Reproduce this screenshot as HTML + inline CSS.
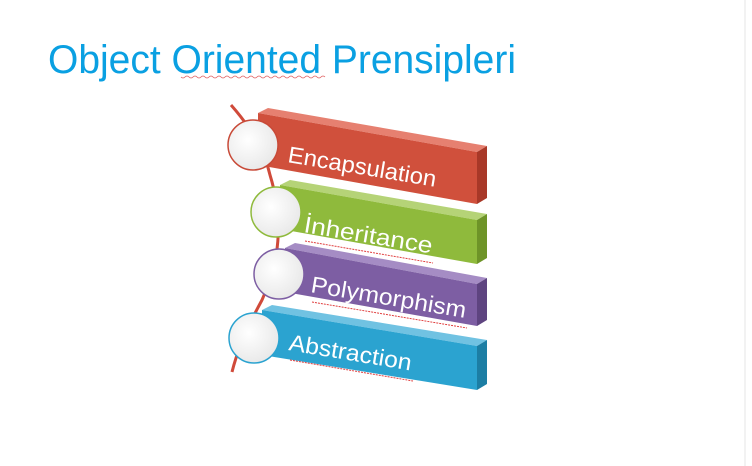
<!DOCTYPE html>
<html><head><meta charset="utf-8"><style>
html,body{margin:0;padding:0;background:#fff;width:752px;height:466px;overflow:hidden}
svg{display:block}
text{font-family:"Liberation Sans",sans-serif}
</style></head><body>
<svg width="752" height="466" viewBox="0 0 752 466">
<defs>
<radialGradient id="cg" cx="0.4" cy="0.4" r="0.7"><stop offset="0" stop-color="#ffffff"/><stop offset="1" stop-color="#e6e6e6"/></radialGradient>
</defs>
<rect x="0" y="0" width="752" height="466" fill="#fff"/>
<line x1="745" y1="0" x2="745" y2="466" stroke="#e4e4e4" stroke-width="1"/>
<text x="48" y="73" font-size="40" fill="#0aa0e2" textLength="468" lengthAdjust="spacingAndGlyphs">Object Oriented Prensipleri</text>
<path d="M181 77 q2 2 4 0 t4 0 t4 0 t4 0 t4 0 t4 0 t4 0 t4 0 t4 0 t4 0 t4 0 t4 0 t4 0 t4 0 t4 0 t4 0 t4 0 t4 0 t4 0 t4 0 t4 0 t4 0 t4 0 t4 0 t4 0 t4 0 t4 0 t4 0 t4 0 t4 0 t4 0 t4 0 t4 0 t4 0 t4 0 t4 0" fill="none" stroke="#e06060" stroke-width="0.8"/>
<path d="M231 105 Q262 140 270 175 Q290 240 262 300 Q240 340 232 372" fill="none" stroke="#d04a3a" stroke-width="3"/>

<g>
<polygon points="258,113 268,108 487,146 477,152" fill="#e68070"/>
<polygon points="258,113 477,152 477,204 258,165" fill="#d0503c"/>
<polygon points="477,152 487,146 487,198 477,204" fill="#a83828"/>
<text x="287" y="162" font-size="23" fill="#fff" transform="rotate(9.5 287 162)" textLength="150" lengthAdjust="spacingAndGlyphs">Encapsulation</text>
</g>
<g>
<polygon points="280,185 290,180 487,214 477,220" fill="#b5d377"/>
<polygon points="280,185 477,220 477,264 280,229" fill="#8fba3c"/>
<polygon points="477,220 487,214 487,258 477,264" fill="#6e9428"/>
<text x="303" y="232" font-size="23" fill="#fff" transform="rotate(9.5 303 232)" textLength="130" lengthAdjust="spacingAndGlyphs">İnheritance</text>
<path d="M305 241 l128 22" stroke="#e04040" stroke-width="1" stroke-dasharray="2,1"/>
</g>
<g>
<polygon points="285,248 295,243 487,278 477,284" fill="#a58cc4"/>
<polygon points="285,248 477,284 477,326 285,292" fill="#7d5ea3"/>
<polygon points="477,284 487,278 487,320 477,326" fill="#5e4480"/>
<text x="310" y="292" font-size="23" fill="#fff" transform="rotate(9.5 310 292)" textLength="157" lengthAdjust="spacingAndGlyphs">Polymorphism</text>
<path d="M312 302 l155 26" stroke="#e04040" stroke-width="1" stroke-dasharray="2,1"/>
</g>
<g>
<polygon points="262,310 272,305 487,340 477,346" fill="#70c2e2"/>
<polygon points="262,310 477,346 477,390 262,355" fill="#2ba3d0"/>
<polygon points="477,346 487,340 487,384 477,390" fill="#1c7ea4"/>
<text x="288" y="350" font-size="23" fill="#fff" transform="rotate(9.5 288 350)" textLength="124" lengthAdjust="spacingAndGlyphs">Abstraction</text>
<path d="M290 360 l123 21" stroke="#e04040" stroke-width="1" stroke-dasharray="2,1"/>
</g>

<circle cx="253" cy="145" r="25" fill="url(#cg)" stroke="#c84a38" stroke-width="1.5"/>
<circle cx="276" cy="212" r="25" fill="url(#cg)" stroke="#8fba3c" stroke-width="1.5"/>
<circle cx="279" cy="274" r="25" fill="url(#cg)" stroke="#7d5ea3" stroke-width="1.5"/>
<circle cx="254" cy="338" r="25" fill="url(#cg)" stroke="#2ba3d0" stroke-width="1.5"/>
</svg>
</body></html>
